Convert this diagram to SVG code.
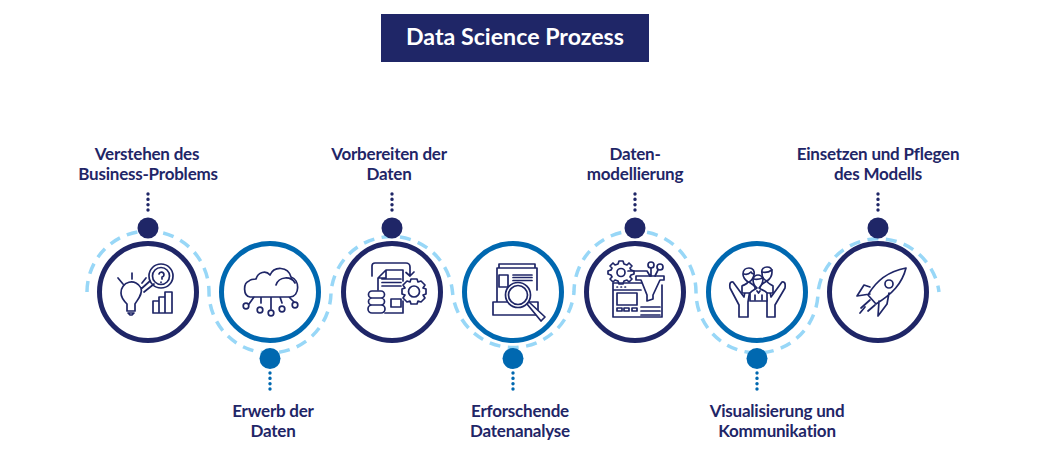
<svg xmlns="http://www.w3.org/2000/svg" width="1038" height="452" viewBox="0 0 1038 452">
<style>
.l{font-family:Lato,"Liberation Sans",sans-serif;font-weight:700;font-size:17px;fill:#1f2667;text-anchor:middle;letter-spacing:-.22px}
.t{font-family:Lato,"Liberation Sans",sans-serif;font-weight:700;font-size:23.200px;fill:#fff;text-anchor:middle}
.d{fill:#1f2667}.b{fill:#0068b0}
.rd{fill:#fff;stroke:#1f2667;stroke-width:5}.rb{fill:#fff;stroke:#0068b0;stroke-width:5}
.i{fill:none;stroke:#1f2667;stroke-width:1.700;stroke-linejoin:round;stroke-linecap:round}
.w{fill:#fff}
.vd{stroke:#1f2667;stroke-width:3.400;stroke-linecap:round;stroke-dasharray:.1 5.200;fill:none}
.vb{stroke:#0068b0;stroke-width:3.400;stroke-linecap:round;stroke-dasharray:.1 5.200;fill:none}
</style>
<rect x="381" y="14" width="268" height="48" fill="#1f2667"/>
<text class="t" x="515" y="45">Data Science Prozess</text>
<g id="connectors">
<path d="M87 292A61 61 0 0 1 209 292A61 61 0 0 0 331 292A61 61 0 0 1 452.500 292A61 61 0 0 0 574 292A61 61 0 0 1 696 292A61 61 0 0 0 818 292A61 61 0 0 1 939 292" fill="none" stroke="#98d7f7" stroke-width="3.500" stroke-dasharray="11 7.500"/>
<path class="vd" d="M148 194V214M392 194V214M635 194V214M878 194V214"/>
<path class="vb" d="M270 373V393M513 373V393M757 373V393"/>
</g>
<g id="node1">
<circle class="d" cx="148" cy="228" r="10.500"/><circle class="rd" cx="148" cy="292" r="48.500"/>
<g class="i"><path d="M127 304C124 301 121 298 121 293A10.500 10.500 0 0 1 141 288C143 294 138 299 135 304V311H127ZM128 313H134L132 315H130ZM118 278L123 284M132 273V279M146 278L142 283M141 289L150 281M144 292L154 284"/><circle cx="161" cy="276" r="12"/><circle cx="161" cy="276" r="8.500"/><path d="M159 274A2.500 2.500 0 1 1 162 277V279M161 282V282.500M153 313V301H159V313M159 313V297H165V313M165 313V292H172V313H153"/></g>
</g>
<g id="node2">
<circle class="b" cx="270" cy="358.500" r="10.500"/><circle class="rb" cx="270" cy="292" r="48.500"/>
<g class="i"><path d="M258 297H250C243 296 243 283 249 281C251 279 254 279 256 279C258 272 266 270 270 275C274 266 288 266 291 277C300 280 300 296 290 297ZM276 285C279 276 291 276 295 283M254 297L249 304M261 297V303M271 297V309M280 297L282 303M289 297L294 302"/><circle cx="246" cy="306" r="2.800"/><circle cx="260" cy="310" r="2.800"/><circle cx="271" cy="313" r="2.800"/><circle cx="282" cy="309" r="2.800"/><circle cx="295" cy="305" r="2.800"/></g>
</g>
<g id="node3">
<circle class="d" cx="392" cy="228" r="10.500"/><circle class="rd" cx="392" cy="292" r="48.500"/>
<g class="i"><path d="M372 276V266A3 3 0 0 1 375 263H406A4 4 0 0 1 410 267V276M406 272.500L410 276L414 272M378 290V278L386 270H403V281M386 270V278H378M403 301V313H385M382 279H401M382 282.500H401M382 286H401M391 299H401V307H391Z"/><path class="w" d="M372 291H381A2 2 0 0 1 381 298H372A2 2 0 0 1 372 291ZM372 298H381A2 2 0 0 1 381 305H372A2 2 0 0 1 372 298ZM372 305H381A2 2 0 0 1 381 313H372A2 2 0 0 1 372 305Z"/><path class="w" d="M411 279H417L418 282L421 281L425 285L423 288L426 289V294L423 295L425 298L421 302L418 301L417 304H411L410 301L407 302L403 298L405 295L402 294V289L405 288L403 285L407 281L410 282Z"/><circle cx="414" cy="291.500" r="5.500"/></g>
</g>
<g id="node4">
<circle class="b" cx="513" cy="358.500" r="10.500"/><circle class="rb" cx="513" cy="292" r="48.500"/>
<g class="i"><path d="M497 302V268H537V290M499 268V264H535V268M499 275H508V287H499ZM513 275H532M513 277.500H532M513 280.500H532M493 302H538V315H493Z"/><circle class="w" cx="518" cy="295" r="12.500"/><circle cx="518" cy="295" r="9.500"/><path class="w" d="M527 304L541 321L545 317L529 302Z"/></g>
</g>
<g id="node5">
<circle class="d" cx="635" cy="228" r="10.500"/><circle class="rd" cx="635" cy="292" r="48.500"/>
<g class="i"><path d="M642 283H613V317H662V285M613 290H641M617 287H617.500M621 287H621.500M625 287H625.500M617 293H637V305H617ZM617 308H622V311H617ZM624 308H629V311H624ZM632 308H637V311H632ZM641 307H660M641 311H660M641 315H660"/><path class="w" d="M636 276H664V280H660L653 295V299L647 301V295L641 280H636Z"/><path d="M628 271H647L650 276M651 268V276M658 270L655 276"/><circle cx="651" cy="265" r="3"/><circle cx="660" cy="267" r="3"/><path d="M619 261H623L624 264L627 265L629 263L632 266L630 268L631 270L634 271V274L631 275L630 277L632 279L629 282L627 280L624 281L623 284H619L618 281L615 280L613 282L610 279L612 277L611 275L608 274V271L611 270L612 268L610 266L613 263L615 265L618 264Z"/><circle cx="621" cy="272.500" r="4"/></g>
</g>
<g id="node6">
<circle class="b" cx="757" cy="358.500" r="10.500"/><circle class="rb" cx="757" cy="292" r="48.500"/>
<g class="i"><path d="M739 317V305L730 288Q729 281 733 282L744 297Q745 290 748 287Q751 286 750 290L748 302V317ZM775 317V305L785 288Q786 281 782 282L771 297Q770 290 767 287Q764 286 765 290L767 302V317ZM739 317H748M767 317H775"/><path class="w" d="M742 290V286C746 284 747 284 748 282C744 279 743 276 743 274C743 270 746 268 749 268C753 268 755 271 754 275C753 279 751 281 749 282C752 284 754 285 755 287V293H742Z"/><path d="M744 274C747 275 749 274 751 272C752 274 753 274 754 274"/><path class="w" d="M773 289V286C770 284 768 284 767 281C770 279 772 276 772 272C772 269 770 267 767 267C764 267 761 269 762 273C762 277 764 280 767 281C764 283 761 284 760 287V293H773Z"/><path d="M762 272C766 273 769 272 772 270"/><path class="w" d="M750 301V293C752 290 755 290 757 288C754 286 753 282 753 279C754 276 756 275 758 275C760 275 762 276 763 279C763 283 761 286 759 288C761 290 765 290 767 293V301Z"/><path d="M754 279C757 280 760 279 763 278M755 300V295M762 300V295M757 291L758.500 293L760 291"/></g>
</g>
<g id="node7">
<circle class="d" cx="878" cy="228" r="10.500"/><circle class="rd" cx="878" cy="292" r="48.500"/>
<g class="i"><path d="M906 268C890 271 877 279 868 295L876 304C892 294 902 284 906 268ZM870 287L864 285L857 296L870 294M879 301L878 316L887 304L889 293"/><circle cx="889" cy="284" r="4"/><path d="M870 300L861 308M865 307L860 313M875 305L868 311"/></g>
</g>
<g id="labels">
<text class="l" x="147" y="159.500">Verstehen des</text><text class="l" x="148" y="179.500">Business-Problems</text>
<text class="l" x="389" y="159.500">Vorbereiten der</text><text class="l" x="389" y="179.500">Daten</text>
<text class="l" x="635" y="159.500">Daten-</text><text class="l" x="635" y="179.500">modellierung</text>
<text class="l" x="878" y="159.500">Einsetzen und Pflegen</text><text class="l" x="878" y="179.500">des Modells</text>
<text class="l" x="273" y="416.500">Erwerb der</text><text class="l" x="273" y="437">Daten</text>
<text class="l" x="520" y="416.500">Erforschende</text><text class="l" x="520" y="437">Datenanalyse</text>
<text class="l" x="777" y="416.500">Visualisierung und</text><text class="l" x="777" y="437">Kommunikation</text>
</g>
</svg>
